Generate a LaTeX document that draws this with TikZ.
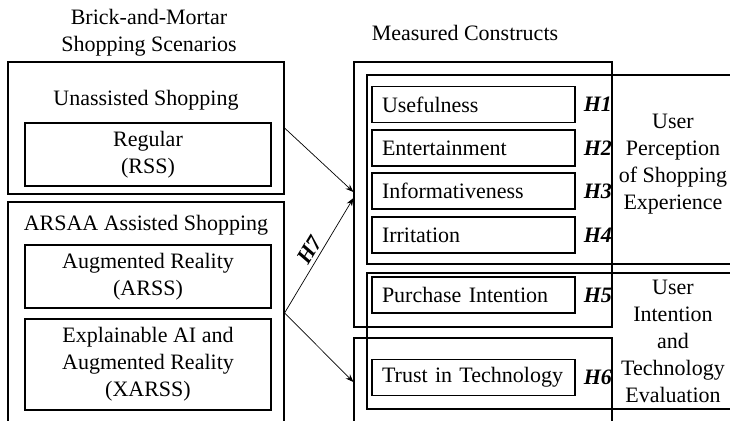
\documentclass[tikz,border=0pt]{standalone}
\usepackage{fontspec}
\setmainfont{Liberation Serif}
\usetikzlibrary{positioning,arrows.meta}
\tikzset{
  frame/.style={draw,line width=1.1pt,inner sep=0pt},
  scen/.style={draw,line width=1.1pt,minimum width=246pt,align=center},
  item/.style={draw,line width=1.1pt,minimum width=203pt,minimum height=36pt,
    text width=183pt,inner xsep=10pt,align=left},
  hyp/.style={font=\fontsize{22}{27}\selectfont\bfseries\itshape,inner sep=0pt},
  link/.style={->,line width=0.7pt},
}
\begin{document}
\begin{tikzpicture}[>={Stealth[length=8pt,width=6pt]},x=1pt,y=-1pt,font=\fontsize{22}{27}\selectfont]
\useasboundingbox (0,0) rectangle (730,420);
% shopping scenarios
\node[align=center] (scentitle) at (149,33) {Brick-and-Mortar\\Shopping Scenarios};
\node[frame,minimum width=276pt,minimum height=132pt] (unassisted) at (146,128) {};
\node (unasstitle) at (146,100) {Unassisted Shopping};
\node[scen,minimum height=63pt] (rss) at (148,154.5) {Regular\\(RSS)};
\node[frame,minimum width=276pt,minimum height=222pt] (arsaa) at (146,313) {};
\node (arsaatitle) at (146,225) {ARSAA Assisted Shopping};
\node[scen,minimum height=63pt] (arss) at (148,276.5) {Augmented Reality\\(ARSS)};
\node[scen,minimum height=91pt] (xarss) at (148,364.5) {Explainable AI and\\Augmented Reality\\(XARSS)};
% measured constructs
\node (constitle) at (465,33) {Measured Constructs};
\node[frame,minimum width=258pt,minimum height=265pt] (constructs) at (483,194.5) {};
\node[frame,minimum width=258pt,minimum height=88pt] (trustframe) at (483,382) {};
\node[frame,minimum width=373pt,minimum height=189pt] (perception) at (553.5,169.5) {};
\node[frame,minimum width=373pt,minimum height=136pt] (intention) at (553.5,341) {};
\node[item] (use) at (473.5,104.5) {Usefulness};
\node[item] (ent) at (473.5,148) {Entertainment};
\node[item] (inf) at (473.5,191) {Informativeness};
\node[item] (irr) at (473.5,235) {Irritation};
\node[item] (pur) at (473.5,295) {Purchase Intention};
\node[item] (tru) at (473.5,377.5) {Trust in Technology};
\node[hyp,right=8pt of use] (h1) {H1};
\node[hyp,right=8pt of ent] (h2) {H2};
\node[hyp,right=8pt of inf] (h3) {H3};
\node[hyp,right=8pt of irr] (h4) {H4};
\node[hyp,right=8pt of pur] (h5) {H5};
\node[hyp,right=8pt of tru] (h6) {H6};
\node[align=center] (perctext) at (673,164) {User\\Perception\\of Shopping\\Experience};
\node[align=center] (inttext) at (673,341) {User\\Intention\\and\\Technology\\Evaluation};
% links
\draw[link] (unassisted.east) -- ([yshift=2.5pt]constructs.west);
\draw[link] (arsaa.east) -- node[hyp,sloped,above=3pt] (h7) {H7} ([yshift=-3.5pt]constructs.west);
\draw[link] (arsaa.east) -- (trustframe.west);
\end{tikzpicture}
\end{document}
